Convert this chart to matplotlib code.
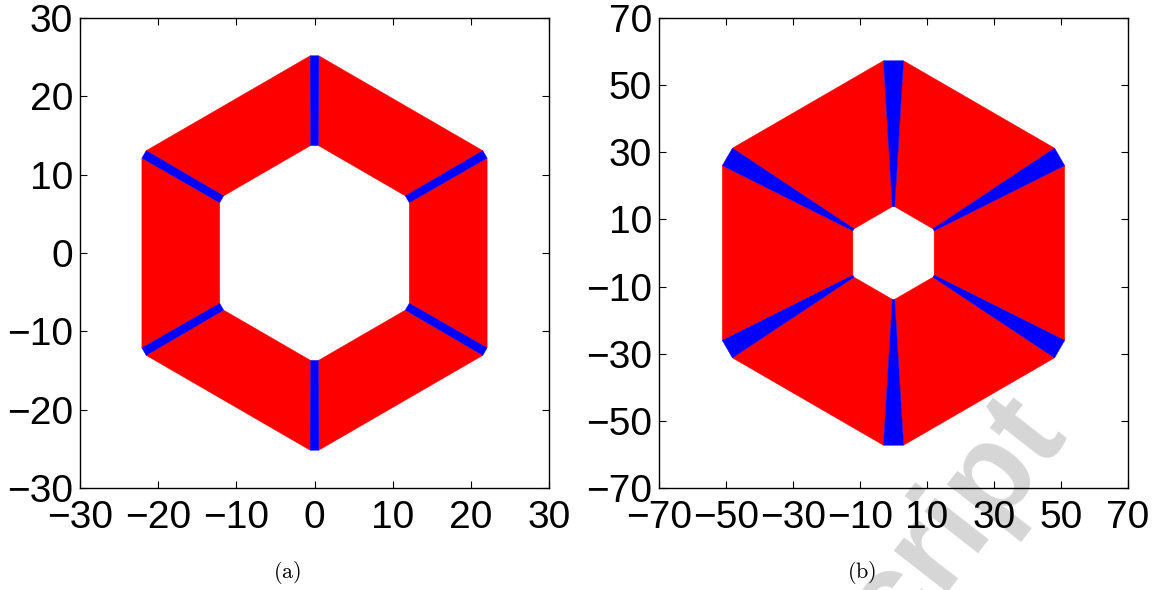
import numpy as np
import matplotlib
matplotlib.use('Agg')
import matplotlib.pyplot as plt
from matplotlib.patches import Polygon

# ---- data ----
panel_labels = ['(a)', '(b)']
outer_radius = [25.5, 59.0]        # circumradius of the outer hexagon
inner_radius = [14.0, 14.0]        # circumradius of the inner hexagon (hole)
outer_half_width = [0.55, 3.0]     # half width of blue strip at outer corner
inner_half_width = [0.5, 0.35]     # half width of blue strip at inner corner
axis_limits = [30, 70]
ticks_a = [-30, -20, -10, 0, 10, 20, 30]
ticks_b = [-70, -50, -30, -10, 10, 30, 50, 70]
panel_ticks = [ticks_a, ticks_b]
watermark = 'Manuscript'

RED = '#ff0000'
BLUE = '#0000ff'

plt.rcParams['font.family'] = ['Liberation Sans', 'DejaVu Sans']
plt.rcParams['mathtext.fontset'] = 'cm'

W, H = 1158, 590
fig = plt.figure(figsize=(W / 100, H / 100), dpi=100)


def hexagon(r):
    ang = np.deg2rad(90 + 60 * np.arange(6))
    return np.column_stack([r * np.cos(ang), r * np.sin(ang)])


def offset(V, k, j, h):
    # point on edge from vertex k toward vertex j at perpendicular half width h
    u = V[j] - V[k]
    u = u / np.linalg.norm(u)
    d = h / np.sin(np.deg2rad(60))
    return V[k] + d * u


# watermark (behind axes)
fig.text(1066 / W, 1 - 430 / H, watermark, ha='right', va='baseline',
         rotation=52, rotation_mode='anchor', fontsize=92, fontweight='bold',
         color='#d6d6d6', zorder=-5)

ax_left_px = [80, 659]
for p in range(2):
    x0 = ax_left_px[p]
    ax = fig.add_axes([x0 / W, (H - 488) / H, 469 / W, 470 / H])
    ax.patch.set_visible(False)
    Vo = hexagon(outer_radius[p])
    Vi = hexagon(inner_radius[p])
    ho, hi = outer_half_width[p], inner_half_width[p]
    for k in range(6):
        n = (k + 1) % 6
        red = [offset(Vi, k, n, hi), offset(Vi, n, k, hi),
               offset(Vo, n, k, ho), offset(Vo, k, n, ho)]
        ax.add_patch(Polygon(red, closed=True, facecolor=RED, edgecolor=RED,
                             linewidth=0.3, zorder=2))
    for k in range(6):
        n = (k + 1) % 6
        m = (k - 1) % 6
        blue = [offset(Vi, k, m, hi), offset(Vi, k, n, hi),
                offset(Vo, k, n, ho), offset(Vo, k, m, ho)]
        ax.add_patch(Polygon(blue, closed=True, facecolor=BLUE, edgecolor=BLUE,
                             linewidth=0.3, zorder=3))
    L = axis_limits[p]
    ax.set_xlim(-L, L)
    ax.set_ylim(-L, L)
    ax.set_xticks(panel_ticks[p])
    ax.set_yticks(panel_ticks[p])
    ax.tick_params(direction='in', length=5, width=0.8, top=True, right=True,
                   labelsize=28, colors='black')
    ax.tick_params(axis='x', pad=9)
    ax.tick_params(axis='y', pad=5)
    for s in ax.spines.values():
        s.set_linewidth(1.0)
    cx = (x0 + 207) / W if p == 0 else (x0 + 203) / W
    fig.text(cx, 1 - 573 / H, r'$\mathrm{%s}$' % panel_labels[p],
             ha='center', va='center', fontsize=16)

fig.savefig('out.png', dpi=100)
